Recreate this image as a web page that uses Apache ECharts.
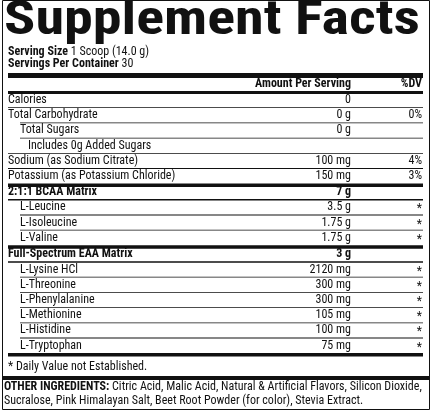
<!DOCTYPE html><html><head><meta charset="utf-8">
<script src="https://cdn.jsdelivr.net/npm/echarts@6/dist/echarts.min.js"></script>
<style>html,body{margin:0;padding:0;background:#fff}#c{width:432px;height:410px}</style></head><body><div id="c"></div>
<script>
const title = "Supplement Facts";
const servingInfo = [["Serving Size", " 1 Scoop (14.0 g)"], ["Servings Per Container", " 30"]];
const headers = ["Amount Per Serving", "%DV"];
const nutrients = ["Calories","Total Carbohydrate","Total Sugars","Includes 0g Added Sugars","Sodium (as Sodium Citrate)","Potassium (as Potassium Chloride)"];
const nutrientAmounts = ["0","0 g","0 g","","100 mg","150 mg"];
const nutrientDV = ["","0%","","","4%","3%"];
const nutrientIndent = [0,0,1,2,0,0];
const bcaaHeader = ["2:1:1 BCAA Matrix","7 g"];
const bcaa = ["L-Leucine","L-Isoleucine","L-Valine"];
const bcaaAmounts = ["3.5 g","1.75 g","1.75 g"];
const eaaHeader = ["Full-Spectrum EAA Matrix","3 g"];
const eaa = ["L-Lysine HCl","L-Threonine","L-Phenylalanine","L-Methionine","L-Histidine","L-Tryptophan"];
const eaaAmounts = ["2120 mg","300 mg","300 mg","105 mg","100 mg","75 mg"];
const footnote = "* Daily Value not Established.";
const otherLabel = "OTHER INGREDIENTS:";
const otherLines = [" Citric Acid, Malic Acid, Natural & Artificial Flavors, Silicon Dioxide,", "Sucralose, Pink Himalayan Salt, Beet Root Powder (for color), Stevia Extract."];

const F = "'Liberation Sans Narrow','Roboto Condensed','DejaVu Sans Condensed',sans-serif";
const L = 8, R = 423, AX = 351, DX = 422, RH = 15.2;
const g = [];
function txt(x,y,s,o){g.push({type:'text',x,y,style:Object.assign({text:s,fill:'#111',font:'12px '+F,textVerticalAlign:'middle'},o||{})});}
function rect(x,y,w,h){g.push({type:'rect',shape:{x,y,width:w,height:h},style:{fill:'#111'}});}
g.push({type:'rect',shape:{x:2.5,y:0.5,width:427,height:409},style:{fill:'none',stroke:'#111',lineWidth:1}});
const cv=document.createElement('canvas').getContext('2d');
cv.font='bold 48px '+F;const tw=cv.measureText(title).width;
g.push({type:'text',x:4,y:22,scaleX:416/tw,style:{text:title,fill:'#111',font:'bold 48px '+F,textVerticalAlign:'middle'}});
servingInfo.forEach((s,i)=>{const y=52+i*11.5;txt(L,y,s[0],{font:'bold 12px '+F});cv.font='bold 12px '+F;const w=cv.measureText(s[0]).width;txt(L+w,y,s[1]);});
rect(L,73,R-L,5);
txt(AX,84,headers[0],{font:'bold 12px '+F,textAlign:'right'});
txt(DX,84,headers[1],{font:'bold 12px '+F,textAlign:'right'});
rect(L,91,R-L,3);
let y=100;
nutrients.forEach((n,i)=>{
 const ind=[0,12,20][nutrientIndent[i]];
 txt(L+ind,y,n); txt(AX,y,nutrientAmounts[i],{textAlign:'right'}); txt(DX,y,nutrientDV[i],{textAlign:'right'});
 if(i<nutrients.length-1){const off=nutrientIndent[i+1]>0?12:0;rect(L+off,y+7.3,R-L-off,0.8);}
 y+=RH;
});
rect(L,y-7.6,R-L,3.5); y+=0.5;
function group(h,names,amts){
 txt(L,y,h[0],{font:'bold 12px '+F}); txt(AX,y,h[1],{font:'bold 12px '+F,textAlign:'right'});
 rect(L,y+7.3,R-L,1.5); y+=RH+0.4;
 names.forEach((n,i)=>{txt(L+12,y,n);txt(AX,y,amts[i],{textAlign:'right'});txt(DX,y+2,'*',{textAlign:'right'});
  if(i<names.length-1)rect(L+12,y+7.3,R-L-12,0.8); y+=RH;});
 rect(L,y-7.6,R-L,3.5); y+=1;
}
group(bcaaHeader,bcaa,bcaaAmounts);
group(eaaHeader,eaa,eaaAmounts);
txt(L,367,footnote);
rect(3,376,426,4);
cv.font='bold 12px '+F;const ow=cv.measureText(otherLabel).width;
txt(L-4,387,otherLabel,{font:'bold 12px '+F});txt(L-4+ow,387,otherLines[0]);
txt(L-4,401,otherLines[1]);
const ch=echarts.init(document.getElementById('c'),null,{renderer:'canvas'});
ch.setOption({animation:false,graphic:{elements:g}});
</script></body></html>
